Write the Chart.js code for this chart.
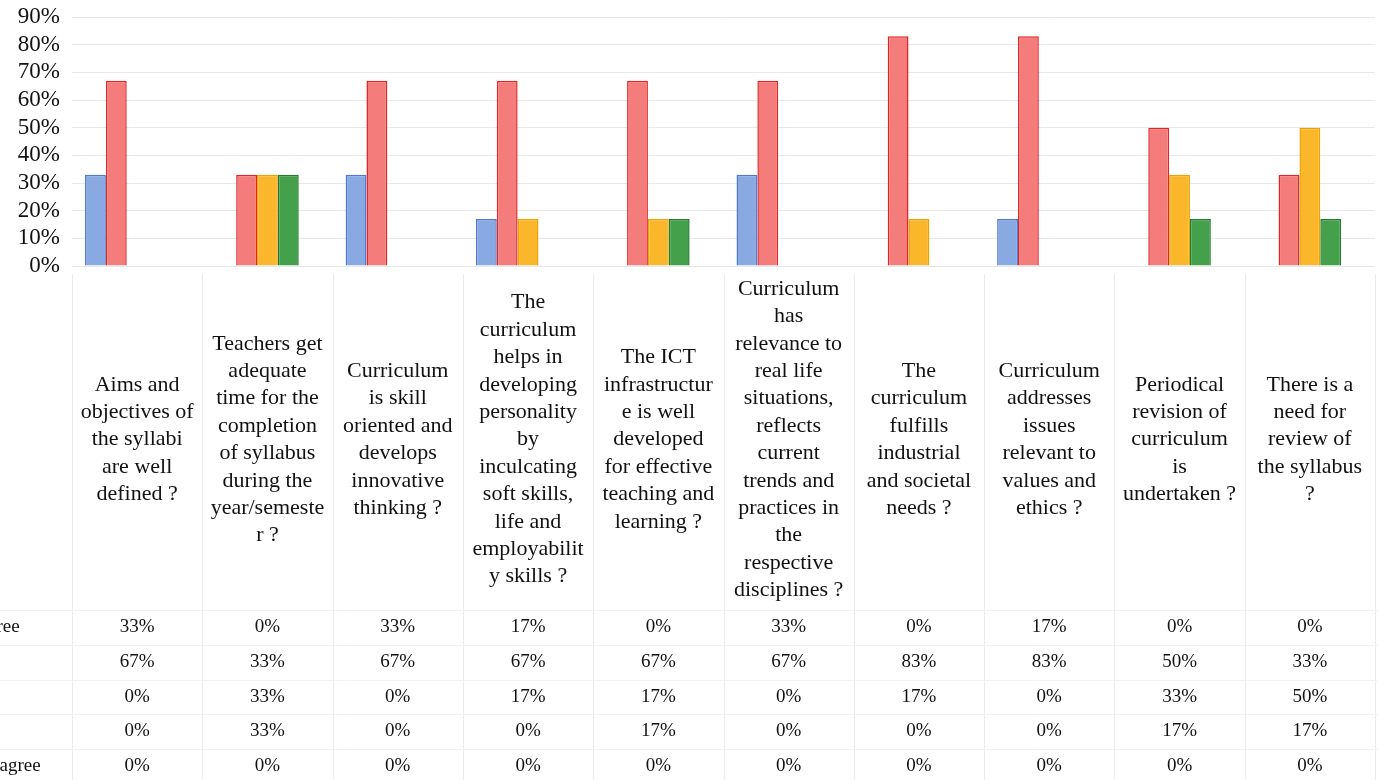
<!DOCTYPE html>
<html lang="en">
<head>
    <meta charset="UTF-8">
    <title>Curriculum feedback</title>
    <script src="https://cdn.jsdelivr.net/npm/chart.js"></script>
    <style>
        body { margin: 0; background: #ffffff; overflow: hidden; }
        .chart-container { position: relative; width: 1378px; height: 780px; }
    </style>
</head>
<body>
    <div class="chart-container">
        <canvas id="feedbackChart"></canvas>
    </div>

    <script>
        // categories (x axis labels, already broken into lines like the original)
        const categories = [
            ['Aims and', 'objectives of', 'the syllabi', 'are well', 'defined ?'],
            ['Teachers get', 'adequate', 'time for the', 'completion', 'of syllabus', 'during the', 'year/semeste', 'r ?'],
            ['Curriculum', 'is skill', 'oriented and', 'develops', 'innovative', 'thinking ?'],
            ['The', 'curriculum', 'helps in', 'developing', 'personality', 'by', 'inculcating', 'soft skills,', 'life and', 'employabilit', 'y skills ?'],
            ['The ICT', 'infrastructur', 'e is well', 'developed', 'for effective', 'teaching and', 'learning ?'],
            ['Curriculum', 'has', 'relevance to', 'real life', 'situations,', 'reflects', 'current', 'trends and', 'practices in', 'the', 'respective', 'disciplines ?'],
            ['The', 'curriculum', 'fulfills', 'industrial', 'and societal', 'needs ?'],
            ['Curriculum', 'addresses', 'issues', 'relevant to', 'values and', 'ethics ?'],
            ['Periodical', 'revision of', 'curriculum', 'is', 'undertaken ?'],
            ['There is a', 'need for', 'review of', 'the syllabus', '?']
        ];

        // series names and values (%)
        const seriesNames = ['Strongly Agree', 'Agree', 'Neutral', 'Disagree', 'Strongly Disagree'];
        const stronglyAgree    = [33, 0, 33, 17, 0, 33, 0, 17, 0, 0];
        const agree            = [67, 33, 67, 67, 67, 67, 83, 83, 50, 33];
        const neutral          = [0, 33, 0, 17, 17, 0, 17, 0, 33, 50];
        const disagree         = [0, 33, 0, 0, 17, 0, 0, 0, 17, 17];
        const stronglyDisagree = [0, 0, 0, 0, 0, 0, 0, 0, 0, 0];

        // y ticks
        const yTicks = [0, 10, 20, 30, 40, 50, 60, 70, 80, 90];

        const seriesValues = [stronglyAgree, agree, neutral, disagree, stronglyDisagree];
        const fills   = ['#88a9e2', '#f47c7a', '#fbb72c', '#45a04c', '#9b86c9'];
        const borders = ['#4d78cf', '#e02626', '#eea100', '#1f7a2a', '#6a54a8'];

        const serif = '"Liberation Serif", "Times New Roman", serif';
        const ink = '#111111';

        // data table under the axis labels, drawn against the x scale
        const dataTable = {
            id: 'dataTable',
            afterDraw(chart) {
                const ctx = chart.ctx;
                const x = chart.scales.x;
                const half = (x.getPixelForValue(1) - x.getPixelForValue(0)) / 2;
                const rowH = 34.8;
                const top = x.bottom;
                ctx.save();
                // faint cell borders
                ctx.strokeStyle = '#ececec';
                ctx.lineWidth = 1;
                for (let i = 0; i <= categories.length; i++) {
                    const px = Math.round(x.getPixelForValue(i) - half) + 0.5;
                    ctx.beginPath();
                    ctx.moveTo(px, x.top + 8);
                    ctx.lineTo(px, chart.height);
                    ctx.stroke();
                }
                ctx.strokeStyle = '#f2f2f2';
                for (let r = 0; r <= seriesNames.length; r++) {
                    const py = Math.round(top + 5 + r * rowH) + 0.5;
                    ctx.beginPath();
                    ctx.moveTo(0, py);
                    ctx.lineTo(chart.width, py);
                    ctx.stroke();
                }
                // values
                ctx.font = '19px ' + serif;
                ctx.fillStyle = ink;
                ctx.textBaseline = 'middle';
                seriesNames.forEach((name, r) => {
                    const y = top + 22 + r * rowH;
                    ctx.textAlign = 'left';
                    ctx.fillText(name, -97, y); // row titles are clipped at the page edge
                    ctx.textAlign = 'center';
                    seriesValues[r].forEach((v, i) => {
                        ctx.fillText(v + '%', x.getPixelForValue(i), y);
                    });
                });
                ctx.restore();
            }
        };

        const ctx = document.getElementById('feedbackChart').getContext('2d');
        const feedbackChart = new Chart(ctx, {
            type: 'bar',
            data: {
                labels: categories,
                datasets: seriesNames.map((name, i) => ({
                    label: name,
                    data: seriesValues[i],
                    backgroundColor: fills[i],
                    borderColor: borders[i],
                    borderWidth: 1.5,
                    categoryPercentage: 0.8,
                    barPercentage: 1.0
                }))
            },
            options: {
                responsive: true,
                maintainAspectRatio: false,
                animation: false,
                layout: { padding: { top: 17, right: 3, bottom: 175, left: 0 } },
                scales: {
                    x: {
                        grid: { display: false },
                        border: { display: false },
                        ticks: {
                            autoSkip: false,
                            maxRotation: 0,
                            minRotation: 0,
                            crossAlign: 'center',
                            padding: 15,
                            color: ink,
                            font: { family: serif, size: 22, lineHeight: '27.4px' }
                        },
                        afterFit(scale) { scale.height = 339; }
                    },
                    y: {
                        min: 0,
                        max: 90,
                        afterBuildTicks(scale) { scale.ticks = yTicks.map(v => ({ value: v })); },
                        grid: { color: '#e8e8e8', drawTicks: false },
                        border: { display: false },
                        ticks: {
                            autoSkip: false,
                            padding: 12,
                            color: ink,
                            font: { family: serif, size: 23 },
                            callback: v => v + '%'
                        },
                        afterFit(scale) {
                            scale.width = 72;
                            scale.paddingTop = 0;
                            scale.paddingBottom = 0;
                        }
                    }
                },
                plugins: {
                    legend: { display: false },
                    tooltip: { enabled: false }
                }
            },
            plugins: [dataTable]
        });
    </script>
</body>
</html>
